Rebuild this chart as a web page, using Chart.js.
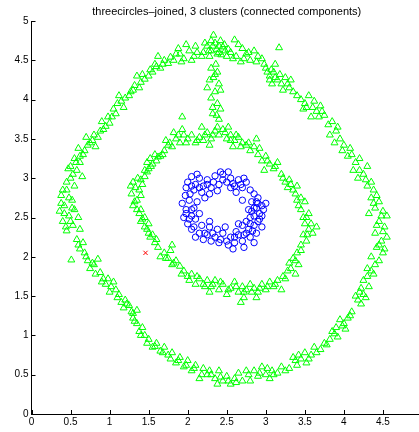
<!DOCTYPE html>
<html lang="en">
<head>
    <meta charset="UTF-8">
    <title>threecircles-joined</title>
    <script src="https://cdn.jsdelivr.net/npm/chart.js"></script>
    <style>
        html, body { margin: 0; padding: 0; overflow: hidden; background: #fff; }
        canvas { display: block; }
    </style>
</head>
<body>
    <canvas id="grafico" width="427" height="432"></canvas>

    <script>
        // tick values on both axes
        const xTicks = [0, 0.5, 1, 1.5, 2, 2.5, 3, 3.5, 4, 4.5, 5];
        const yTicks = [0, 0.5, 1, 1.5, 2, 2.5, 3, 3.5, 4, 4.5, 5];
        const titleText = "threecircles\u2013joined, 3 clusters (connected components)";

        // cluster 1 (green triangles): outer ring
        const outerRing = [
            [0.45,2.85],[0.38,2.78],[0.52,2.72],[0.42,2.65],[0.55,2.6],[0.36,2.58],[0.48,2.52],[0.6,2.5],[0.4,2.45],[0.53,2.4],[0.45,2.33],[0.62,2.35],
            [0.5,3.0],[0.58,3.1],[0.47,3.12],[0.62,3.2],[0.55,3.25],[0.66,3.3],[0.6,3.38],[0.72,3.42],[0.53,3.05],[0.65,3.02],
            [0.8,3.55],[0.88,3.6],[0.78,3.48],[0.95,3.66],[0.9,3.72],[1.0,3.7],[1.03,3.78],[0.85,3.52],
            [1.05,3.88],[1.1,3.95],[1.18,3.9],[1.2,4.02],[1.12,4.05],
            [1.27,4.1],[1.32,4.18],[1.4,4.22],[1.35,4.3],[1.45,4.26],[1.3,4.12],
            [1.52,4.38],[1.58,4.45],[1.65,4.4],[1.7,4.5],[1.62,4.55],[1.75,4.46],[1.55,4.35],
            [1.82,4.5],[1.9,4.58],[1.95,4.52],[2.02,4.62],[2.08,4.55],[1.88,4.65],[2.1,4.68],[1.98,4.7],
            [2.2,4.6],[2.25,4.68],[2.3,4.62],[2.35,4.72],[2.4,4.6],[2.45,4.67],[2.33,4.82],[2.28,4.55],[2.5,4.55],[2.42,4.75],[2.38,4.58],[2.48,4.62],
            [2.55,4.6],[2.6,4.76],[2.62,4.55],[2.7,4.65],[2.75,4.58],[2.8,4.5],[2.85,4.62],[2.9,4.55],[2.68,4.48],[2.95,4.52],[3.17,4.66],
            [3.0,4.4],[3.05,4.3],[3.1,4.35],[3.15,4.25],[3.2,4.2],[3.25,4.28],[3.3,4.15],[3.12,4.45],[3.35,4.1],[3.22,4.12],[3.08,4.2],
            [3.45,4.0],[3.5,3.95],[3.55,4.05],[3.6,3.9],[3.65,3.85],[3.7,3.92],[3.75,3.8],[3.58,3.78],[3.48,3.88],
            [3.85,3.72],[3.9,3.6],[3.82,3.55],[3.95,3.5],[3.88,3.45],[4.0,3.42],[3.92,3.65],
            [4.1,3.3],[4.15,3.2],[4.2,3.25],[4.12,3.1],[4.25,3.05],[4.18,3.0],[4.3,3.15],[4.08,3.38],
            [4.3,2.9],[4.38,2.85],[4.35,2.75],[4.45,2.7],[4.4,2.62],[4.5,2.58],[4.32,2.55],[4.55,2.52],
            [4.45,2.45],[4.52,2.38],[4.4,2.3],[4.55,2.25],[4.48,2.2],[4.42,2.12],[4.5,2.05],[4.35,2.0],[4.45,1.95],
            [4.3,1.85],[4.38,1.78],[4.25,1.7],[4.32,1.62],[4.2,1.55],[4.28,1.48],[4.15,1.5],[4.22,1.4],
            [4.1,1.3],[4.05,1.22],[4.0,1.15],[3.95,1.2],[3.9,1.1],[3.85,1.05],[4.02,1.08],[3.92,0.98],[3.82,0.95],
            [3.75,0.9],[3.7,0.82],[3.62,0.85],[3.58,0.75],[3.5,0.78],[3.45,0.7],[3.4,0.62],[3.52,0.65],[3.35,0.72],[3.3,0.58],
            [3.2,0.6],[3.15,0.52],[3.08,0.55],[3.0,0.5],[2.95,0.6],[2.9,0.48],[3.05,0.45],[2.85,0.55],
            [2.78,0.5],[2.7,0.42],[2.65,0.52],[2.6,0.45],[2.55,0.38],[2.5,0.48],[2.45,0.42],[2.4,0.55],[2.35,0.45],[2.3,0.5],
            [2.25,0.5],[2.2,0.58],[2.15,0.45],[2.1,0.62],[2.05,0.55],[2.0,0.68],[1.95,0.6],[1.9,0.72],[1.85,0.65],[1.8,0.78],
            [1.75,0.75],[1.7,0.85],[1.65,0.8],[1.6,0.9],[1.55,0.85],[1.5,0.95],
            [1.45,1.0],[1.42,1.1],[1.38,1.05],[1.35,1.15],[1.3,1.22],[1.28,1.3],[1.35,1.32],
            [1.25,1.38],[1.2,1.45],[1.15,1.42],[1.12,1.52],[1.08,1.58],[1.0,1.55],[0.95,1.65],[1.05,1.68],
            [0.92,1.72],[0.88,1.8],[0.82,1.78],[0.8,1.9],[0.75,1.85],[0.72,1.95],[0.85,1.97],[0.68,2.05],[0.62,2.1],[0.66,2.18],[0.58,2.22],[0.51,1.96],
            [2.22,4.72],[2.27,4.62],[2.32,4.68],[2.37,4.64],[2.43,4.57],[2.47,4.7],[2.3,4.75],[2.4,4.68],[2.18,4.55],[2.12,4.6],
            [2.05,4.5],[1.92,4.48],[1.85,4.58],[1.78,4.54],[2.52,4.64],[2.58,4.52],[2.65,4.7],[2.72,4.52],[2.78,4.6],[2.88,4.48],
            [2.98,4.45],[3.02,4.35],[3.07,4.38],[3.12,4.28],[3.18,4.32],[3.05,4.25],[3.28,4.2],[3.32,4.25],[3.4,4.05],[3.52,3.9],
            [3.62,3.98],[3.68,3.78],[3.72,3.85],[3.8,3.68],
            [3.98,3.35],[4.05,3.28],[4.2,3.1],[4.28,2.98],[4.35,2.95],[4.42,2.78],[4.38,2.68],[4.48,2.52],[4.42,2.4],[4.5,2.32],
            [4.45,2.15],[4.52,2.1],[4.4,1.9],[4.35,1.82],[4.3,1.75],[4.22,1.6],[4.25,1.52],[4.18,1.45],
            [4.08,1.25],[3.98,1.12],[3.88,1.02],[3.78,0.88],[3.65,0.78],[3.55,0.7],[3.42,0.75],[3.38,0.68],[3.25,0.55],[3.1,0.5],
            [3.02,0.58],[2.92,0.52],[2.8,0.42],[2.75,0.55],[2.62,0.4],[2.52,0.42],[2.42,0.47],[2.38,0.38],[2.28,0.55],
            [2.18,0.5],[2.08,0.58],[1.98,0.62],[1.88,0.68],[1.78,0.7],[1.68,0.78],[1.58,0.86],[1.48,0.9],[1.4,1.0],[1.32,1.18],
            [1.3,1.28],[1.22,1.4],[1.18,1.35],[1.1,1.48],[1.02,1.62],[0.98,1.72],[0.9,1.68],[0.78,1.92],[0.7,2.0],[0.6,2.15],
            [0.44,2.38],[0.5,2.45],[0.42,2.55],[0.52,2.62],[0.38,2.68],[0.48,2.75],[0.4,2.85],[0.45,2.95],[0.55,2.9],[0.5,3.15],
            [0.57,3.2],[0.62,3.28],[0.68,3.35],[0.75,3.45],[0.82,3.4],[0.7,3.52],[0.92,3.62],[0.98,3.78],[1.08,3.82],[1.15,3.98],
            [1.25,4.05],[1.38,4.15],[1.42,4.32],[1.5,4.3],[1.6,4.42],[1.68,4.45]
        ];

        // cluster 1 (green triangles): link between the two rings
        const bridge = [
            [2.3,4.4],[2.38,4.35],[2.33,4.28],[2.4,4.2],[2.35,4.1],[2.3,4.02],[2.38,3.95],[2.42,3.88],[2.32,3.82],[2.4,3.75],[2.36,4.45],[2.25,4.15],
            [2.35,4.32],[2.42,4.12],[2.32,3.9],[2.37,3.8],[2.28,4.25]
        ];

        // cluster 1 (green triangles): middle ring
        const middleRing = [
            [1.3,2.65],[1.35,2.72],[1.28,2.8],[1.4,2.78],[1.33,2.88],[1.42,2.92],[1.36,3.0],[1.45,3.02],[1.3,2.95],[1.48,3.08],
            [1.5,3.12],[1.55,3.18],[1.48,3.2],[1.6,3.22],[1.58,3.3],[1.65,3.28],[1.52,3.25],
            [1.7,3.35],[1.75,3.42],[1.8,3.4],[1.85,3.5],[1.9,3.45],[1.95,3.55],[1.82,3.58],[2.0,3.5],[1.72,3.48],[1.93,3.62],[1.93,3.78],
            [2.1,3.45],[2.15,3.52],[2.2,3.48],[2.25,3.58],[2.3,3.5],[2.35,3.6],[2.4,3.55],[2.45,3.62],[2.5,3.5],[2.18,3.65],[2.28,3.42],
            [2.55,3.55],[2.6,3.48],[2.65,3.52],[2.7,3.45],[2.58,3.4],[2.52,3.65],
            [2.75,3.42],[2.8,3.35],[2.85,3.4],[2.9,3.3],[2.95,3.22],[3.0,3.28],[3.05,3.18],[3.1,3.12],[2.88,3.5],[3.15,3.2],[2.98,3.1],
            [3.2,3.05],[3.25,2.95],[3.3,2.98],[3.35,2.85],[3.4,2.9],[3.45,2.75],[3.42,2.65],[3.5,2.7],[3.55,2.55],[3.48,2.5],[3.38,2.8],
            [3.5,2.42],[3.55,2.35],[3.6,2.3],[3.48,2.28],[3.65,2.38],[3.52,2.2],[3.45,2.15],
            [3.4,2.05],[3.35,1.98],[3.42,1.9],[3.3,1.92],[3.28,1.82],[3.38,1.78],[3.25,1.72],
            [3.15,1.7],[3.1,1.62],[3.05,1.68],[3.0,1.58],[2.95,1.65],[2.9,1.55],[2.85,1.6],[3.2,1.58],[2.88,1.48],
            [2.8,1.65],[2.75,1.58],[2.7,1.62],[2.65,1.55],[2.6,1.68],[2.55,1.6],[2.5,1.52],[2.45,1.65],[2.4,1.58],[2.35,1.7],[2.3,1.62],[2.68,1.42],[2.72,1.48],
            [2.25,1.7],[2.2,1.65],[2.15,1.72],[2.1,1.65],[2.05,1.78],[2.0,1.75],[1.95,1.82],[2.28,1.55],
            [1.9,1.88],[1.85,1.95],[1.8,1.9],[1.75,1.98],[1.7,2.05],[1.65,2.0],[1.78,2.08],[1.8,2.15],
            [1.6,2.22],[1.55,2.28],[1.5,2.3],[1.45,2.38],[1.4,2.45],[1.45,2.5],[1.38,2.55],[1.5,2.42],[1.35,2.6],
            [1.32,2.7],[1.38,2.85],[1.27,2.9],[1.4,2.98],[1.45,3.1],[1.53,3.15],[1.62,3.27],[1.68,3.3],[1.77,3.45],[1.88,3.55],
            [1.98,3.45],[2.05,3.55],[2.12,3.48],[2.22,3.55],[2.32,3.55],[2.38,3.65],[2.48,3.58],[2.55,3.48],[2.62,3.55],[2.68,3.4],
            [2.78,3.45],[2.92,3.38],[3.02,3.22],[3.12,3.15],[3.22,3.0],[3.28,2.88],[3.32,2.92],[3.4,2.72],[3.45,2.6],[3.52,2.5],
            [3.58,2.42],[3.53,2.28],[3.45,2.08],[3.38,1.95],[3.32,1.85],[3.22,1.75],[3.12,1.65],[3.02,1.62],[2.92,1.6],[2.82,1.55],
            [2.72,1.55],[2.62,1.62],[2.52,1.58],[2.42,1.68],[2.32,1.65],[2.22,1.62],[2.12,1.75],[2.02,1.7],[1.92,1.78],[1.82,1.92],
            [1.72,1.98],[1.62,2.12],[1.58,2.18],[1.52,2.25],[1.48,2.35],[1.42,2.48],[1.4,2.6]
        ];

        // cluster 2 (blue circles): inner ring
        const innerRing = [
            [2.0,2.95],[2.05,3.02],[2.1,2.92],[2.15,3.0],[2.2,2.9],[2.25,2.98],[2.3,2.88],[2.35,3.03],[2.4,2.92],[2.45,3.05],
            [2.5,2.95],[2.55,3.0],[2.6,2.9],[2.65,2.98],[2.7,2.88],[2.75,2.95],[2.8,2.85],[2.08,2.85],[2.18,2.82],[2.28,2.8],
            [2.42,3.08],[2.52,3.08],[1.98,2.88],[2.03,2.8],[2.62,2.82],[2.38,2.84],[2.12,3.05],[2.33,2.95],[2.58,2.93],[2.72,3.0],
            [2.85,2.8],[2.9,2.75],[2.82,2.7],[2.95,2.65],[2.88,2.62],[2.78,2.6],[2.92,2.55],[2.85,2.52],[2.97,2.6],[2.8,2.5],
            [2.9,2.45],[2.75,2.45],[2.85,2.4],[2.95,2.38],[2.78,2.35],[2.88,2.3],[3.0,2.68],[2.7,2.4],[2.82,2.58],[2.9,2.68],
            [2.8,2.25],[2.75,2.3],[2.7,2.2],[2.65,2.28],[2.6,2.18],[2.55,2.25],[2.5,2.2],[2.45,2.3],[2.4,2.18],[2.35,2.25],
            [2.3,2.2],[2.25,2.28],[2.2,2.22],[2.15,2.3],[2.1,2.25],[2.05,2.35],[2.62,2.32],[2.52,2.15],[2.48,2.38],[2.38,2.35],
            [2.28,2.38],[2.72,2.12],[2.58,2.1],[2.18,2.4],[2.85,2.18],
            [2.0,2.42],[1.95,2.5],[2.05,2.52],[1.98,2.6],[2.1,2.48],[1.93,2.68],[2.02,2.72],[2.08,2.62],[2.12,2.7],[1.97,2.78],[2.15,2.55],
            [2.22,2.75],[2.7,2.72],[2.28,2.45],[2.65,2.42],[2.05,2.9],[2.15,2.88],[2.25,2.92],[2.45,2.98],[2.55,2.88],[2.68,2.92],
            [2.85,2.62],[2.92,2.48],[2.8,2.42],[2.72,2.28],[2.6,2.25],[2.42,2.22],[2.32,2.3],[2.22,2.3],[2.08,2.38],[2.02,2.48],
            [1.98,2.55],[2.05,2.6],[2.88,2.7],[2.95,2.52],[2.83,2.33]
        ];

        // cluster 3 (red cross): single point
        const outlier = [[1.46, 2.05]];

        function toPoints(arr) {
            return arr.map(p => ({ x: p[0], y: p[1] }));
        }

        // inward tick marks + title centred over the plot, like the original figure
        const figurePlugin = {
            id: "figure",
            afterDraw(chart) {
                const c = chart.ctx;
                const a = chart.chartArea;
                const xs = chart.scales.x;
                const ys = chart.scales.y;
                c.save();
                c.strokeStyle = "#000";
                c.lineWidth = 1;
                c.beginPath();
                xTicks.forEach(v => {
                    const px = Math.round(xs.getPixelForValue(v)) + 0.5;
                    c.moveTo(px, a.bottom);
                    c.lineTo(px, a.bottom - 4);
                });
                yTicks.forEach(v => {
                    const py = Math.round(ys.getPixelForValue(v)) + 0.5;
                    c.moveTo(a.left, py);
                    c.lineTo(a.left + 4, py);
                });
                c.stroke();
                c.fillStyle = "#000";
                c.font = "11px 'Liberation Sans', Arial, sans-serif";
                c.textAlign = "center";
                c.textBaseline = "middle";
                c.fillText(titleText, (a.left + a.right) / 2, 12);
                c.restore();
            }
        };

        const ctx = document.getElementById("grafico").getContext("2d");

        new Chart(ctx, {
            type: "scatter",
            data: {
                datasets: [
                    {
                        label: "cluster 3",
                        data: toPoints(outlier),
                        pointStyle: "crossRot",
                        pointRadius: 3,
                        borderColor: "#ff0000",
                        backgroundColor: "#ff0000",
                        borderWidth: 1
                    },
                    {
                        label: "cluster 2",
                        data: toPoints(innerRing),
                        pointStyle: "circle",
                        pointRadius: 3.2,
                        borderColor: "#0000ff",
                        backgroundColor: "rgba(0,0,0,0)",
                        borderWidth: 1
                    },
                    {
                        label: "cluster 1",
                        data: toPoints(outerRing.concat(bridge, middleRing)),
                        pointStyle: "triangle",
                        pointRadius: 4,
                        borderColor: "#00ff00",
                        backgroundColor: "rgba(0,0,0,0)",
                        borderWidth: 1
                    }
                ]
            },
            options: {
                responsive: false,
                animation: false,
                layout: { padding: { top: 21, left: 0, right: 0, bottom: 0 } },
                plugins: {
                    legend: { display: false },
                    title: { display: false },
                    tooltip: { enabled: false }
                },
                scales: {
                    x: {
                        type: "linear",
                        min: 0,
                        max: 5,
                        afterBuildTicks: s => { s.ticks = xTicks.map(v => ({ value: v })); },
                        afterFit: s => { s.height = 18; },
                        grid: { display: false, drawTicks: false },
                        border: { display: true, color: "#000", width: 1 },
                        ticks: {
                            padding: 2,
                            color: "#000",
                            maxRotation: 0,
                            autoSkip: false,
                            font: { family: "'Liberation Sans', Arial, sans-serif", size: 10 },
                            callback: v => String(v)
                        }
                    },
                    y: {
                        type: "linear",
                        min: 0,
                        max: 5,
                        afterBuildTicks: s => { s.ticks = yTicks.map(v => ({ value: v })); },
                        afterFit: s => { s.width = 31.5; },
                        grid: { display: false, drawTicks: false },
                        border: { display: true, color: "#000", width: 1 },
                        ticks: {
                            padding: 3,
                            color: "#000",
                            autoSkip: false,
                            font: { family: "'Liberation Sans', Arial, sans-serif", size: 10 },
                            callback: v => String(v)
                        }
                    }
                }
            },
            plugins: [figurePlugin]
        });
    </script>
</body>
</html>
